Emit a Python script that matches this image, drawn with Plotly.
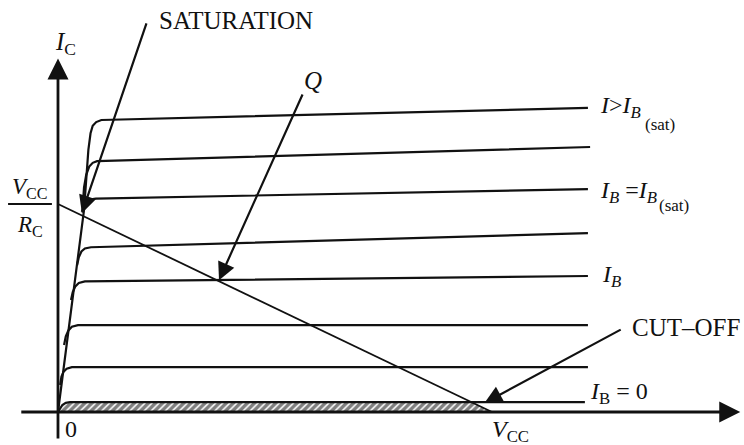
import plotly.graph_objects as go

# Transistor output characteristics (V_CE in volts, I_C in mA), V_CC = 10 V, R_C = 2 kOhm
VCC = 10.0
IC_SAT = 5.0

# collector curves, bottom (I_B = 0) to top (I > I_B(sat))
curve_v = [
    [0.0, 0.05, 0.10, 0.18, 0.28, 12.14],
    [0.05, 0.08, 0.13, 0.20, 0.32, 12.21],
    [0.14, 0.18, 0.24, 0.32, 0.46, 12.21],
    [0.30, 0.34, 0.40, 0.48, 0.62, 12.21],
    [0.44, 0.48, 0.54, 0.62, 0.76, 12.21],
    [0.55, 0.59, 0.65, 0.73, 0.87, 12.21],
    [0.58, 0.60, 0.65, 0.72, 0.80, 0.90, 12.26],
    [0.0, 0.60, 0.70, 0.75, 0.80, 0.88, 1.00, 12.21],
]
curve_i = [
    [0.0, 0.10, 0.17, 0.22, 0.24, 0.24],
    [0.65, 0.85, 0.97, 1.04, 1.08, 1.08],
    [1.61, 1.82, 1.96, 2.05, 2.09, 2.09],
    [2.69, 2.88, 3.02, 3.10, 3.14, 3.27],
    [3.53, 3.72, 3.86, 3.93, 3.96, 4.30],
    [4.81, 4.95, 5.05, 5.11, 5.13, 5.36],
    [5.10, 5.40, 5.70, 5.90, 5.99, 6.03, 6.37],
    [0.0, 4.86, 6.30, 6.70, 6.88, 6.97, 7.02, 7.31],
]

# load line end points
load_v = [0.0, VCC]
load_i = [IC_SAT, 0.0]

# cut-off region (under the I_B = 0 curve, left of the load line)
cut_v = [0.0, 0.05, 0.10, 0.18, 0.28, 9.52, VCC, 0.0]
cut_i = [0.0, 0.10, 0.17, 0.22, 0.24, 0.24, 0.0, 0.0]

FONT = "Liberation Serif, Times New Roman, serif"
INK = "#111111"

fig = go.Figure()

fig.add_trace(go.Scatter(
    x=cut_v, y=cut_i, mode="lines", fill="toself",
    line=dict(width=0, color="black"),
    fillcolor="white",
    fillpattern=dict(shape="/", fgcolor="black", bgcolor="white", size=5, solidity=0.7),
    hoverinfo="skip",
))

for v, i in zip(curve_v, curve_i):
    fig.add_trace(go.Scatter(
        x=v, y=i, mode="lines",
        line=dict(color=INK, width=2.2),
        hoverinfo="skip",
    ))

fig.add_trace(go.Scatter(
    x=load_v, y=load_i, mode="lines",
    line=dict(color=INK, width=1.8), hoverinfo="skip",
))


def arrow(x, y, ax, ay, width=2.2, size=1.6):
    fig.add_annotation(
        x=x, y=y, ax=ax, ay=ay, xref="x", yref="y", axref="x", ayref="y",
        text="", showarrow=True, arrowhead=2, arrowsize=size,
        arrowwidth=width, arrowcolor=INK, standoff=0,
    )


# axes
arrow(15.72, 0.0, -0.88, 0.0, width=2.8, size=1.5)
arrow(0.0, 8.50, 0.0, -0.67, width=2.8, size=1.5)

# pointers
arrow(0.55, 4.78, 2.05, 9.38)
arrow(3.71, 3.17, 5.65, 7.67)
arrow(9.83, 0.22, 13.0, 2.0)


def label(x, y, text, size=24, xanchor="left"):
    fig.add_annotation(
        x=x, y=y, xref="x", yref="y", text=text, showarrow=False,
        xanchor=xanchor, yanchor="middle",
        font=dict(family=FONT, size=size, color=INK),
    )


label(2.28, 9.40, "SATURATION", size=25)
label(5.88, 7.98, "<i>Q</i>", size=25, xanchor="center")
label(13.18, 2.04, "CUT–OFF", size=25)
label(-0.12, 8.85, "<i>I</i><sub>C</sub>", size=25)
label(-0.645, 5.38, "<i>V</i><sub>CC</sub>", size=23, xanchor="center")
label(-0.645, 4.48, "<i>R</i><sub>C</sub>", size=23, xanchor="center")
label(0.30, -0.41, "0", size=24, xanchor="center")
label(9.95, -0.45, "<i>V</i><sub>CC</sub>", size=24)
label(12.44, 7.33, "<i>I</i>><i>I<sub>B</sub></i>", size=24)
label(13.48, 6.90, "(sat)", size=17)
label(12.45, 5.29, "<i>I<sub>B</sub></i> =<i>I<sub>B</sub></i>", size=24)
label(13.80, 4.97, "(sat)", size=17)
label(12.49, 3.27, "<i>I<sub>B</sub></i>", size=24)
label(12.21, 0.46, "<i>I</i><sub>B</sub> = 0", size=24)

# fraction bar of V_CC / R_C
fig.add_shape(type="line", x0=-1.15, x1=-0.14, y0=IC_SAT, y1=IC_SAT,
              xref="x", yref="y", line=dict(color=INK, width=2))

fig.update_layout(
    width=744, height=445,
    margin=dict(l=0, r=0, t=0, b=0),
    paper_bgcolor="white", plot_bgcolor="white",
    showlegend=False,
    xaxis=dict(range=[-1.336, 15.806], visible=False, fixedrange=True),
    yaxis=dict(range=[-0.793, 9.904], visible=False, fixedrange=True),
)

fig.write_html("out.html", config={"displayModeBar": False},
               post_script="document.body.style.margin='0';")
